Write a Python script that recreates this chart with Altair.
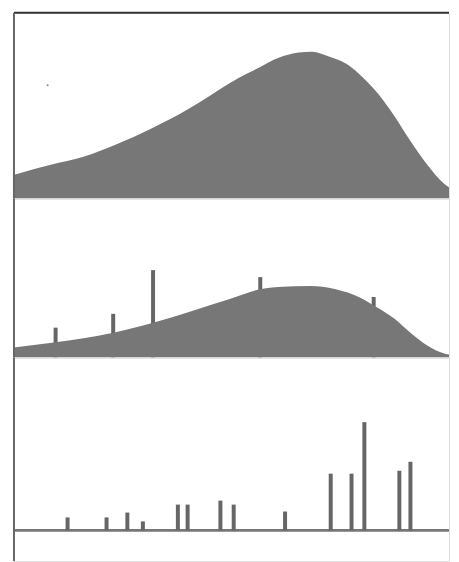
import altair as alt
import pandas as pd

# Panel 1: smooth skewed curve
p1_x = [0, 0.9, 8.3, 15.7, 23.3, 30.7, 37.4, 41.9, 46.4, 50.9, 55.4, 59.9, 64.3, 67.3, 71.1, 74.9, 77.8, 82.1, 85.9, 89.5, 93.3, 97.1, 100]
p1_y = [12.8, 13.4, 18.2, 22.5, 29.4, 37.4, 45.5, 51.9, 58.8, 65.2, 70.6, 75.9, 78.6, 79.1, 76.5, 72.7, 67.4, 56.7, 44.4, 31.0, 18.2, 8.0, 3.7]
dot_x = [7.6]
dot_y = [61]

# Panel 2: flatter curve with spikes
p2_x = [0, 9.0, 22.4, 31.4, 48.7, 55.8, 59.6, 67.0, 72.4, 78.3, 82.1, 85.9, 89.5, 93.3, 97.1, 100]
p2_y = [6.3, 9.4, 15.6, 21.9, 36.9, 43.1, 44.4, 45.0, 43.1, 37.5, 31.3, 24.4, 15.6, 7.5, 2.5, 1.3]
s2_x = [9.4, 22.4, 31.4, 55.6, 81.2]
s2_y = [18.8, 27.5, 55.0, 50.6, 38.1]

# Panel 3: spikes on baseline
s3_x = [12.1, 20.9, 25.6, 29.1, 37.0, 39.2, 46.6, 49.6, 61.2, 71.5, 76.2, 79.1, 87.0, 89.5]
s3_y = [7.5, 7.5, 10.3, 5.2, 14.9, 14.9, 17.2, 14.9, 10.9, 32.8, 32.8, 62.6, 34.5, 39.7]

W = 438
XMAX = 100 * W / 446
AREA = "#777777"
SPIKE = "#666666"
AXIS = "#666666"

d1 = pd.DataFrame({"x": p1_x, "y": p1_y})
dd = pd.DataFrame({"x": dot_x, "y": dot_y})
d2 = pd.DataFrame({"x": p2_x, "y": p2_y})
sp2 = pd.DataFrame({"x": s2_x, "y": s2_y})
sp3 = pd.DataFrame({"x": s3_x, "y": s3_y})
one = pd.DataFrame({"k": [0]})


def xs():
    return alt.Scale(domain=[0, XMAX], nice=False, zero=False, padding=0)


def left_line(ys, lo, hi):
    return alt.Chart(one).mark_rule(color=AXIS, strokeWidth=2).encode(
        x=alt.X(datum=0, scale=xs(), axis=None),
        y=alt.Y(datum=lo, scale=ys, axis=None),
        y2=alt.Y2(datum=hi),
    )


# Panel 1
H1 = 187
ys1 = alt.Scale(domain=[0, 100], nice=False, zero=False, padding=0)
top_area = alt.Chart(d1).mark_area(color=AREA, interpolate="monotone", clip=True).encode(
    x=alt.X("x:Q", scale=xs(), axis=None),
    y=alt.Y("y:Q", scale=ys1, axis=None),
)
top_dot = alt.Chart(dd).mark_circle(size=4, color="#888888", opacity=1).encode(
    x=alt.X("x:Q", scale=xs(), axis=None), y=alt.Y("y:Q", scale=ys1, axis=None)
)
top_line = alt.Chart(one).mark_rule(color="#333333", strokeWidth=2).encode(
    x=alt.X(datum=0, scale=xs(), axis=None),
    x2=alt.X2(datum=XMAX),
    y=alt.Y(datum=100, scale=ys1, axis=None),
)
panel1 = (top_area + top_dot + top_line + left_line(ys1, 0, 100)).properties(width=W, height=H1)

# Panel 2
H2 = 160
ys2 = alt.Scale(domain=[0, 100], nice=False, zero=False, padding=0)
mid_area = alt.Chart(d2).mark_area(color=AREA, interpolate="monotone", clip=True).encode(
    x=alt.X("x:Q", scale=xs(), axis=None),
    y=alt.Y("y:Q", scale=ys2, axis=None),
)
mid_spk = alt.Chart(sp2).mark_bar(color=SPIKE, width=4).encode(
    x=alt.X("x:Q", scale=xs(), axis=None), y=alt.Y("y:Q", scale=ys2, axis=None)
)
panel2 = (mid_spk + mid_area + left_line(ys2, 0, 100)).properties(width=W, height=H2)

# Panel 3
H3 = 205
ys3 = alt.Scale(domain=[-17.8, 100], nice=False, zero=False, padding=0)
base = alt.Chart(one).mark_rule(color="#777777", strokeWidth=3).encode(
    x=alt.X(datum=0, scale=xs(), axis=None),
    x2=alt.X2(datum=XMAX),
    y=alt.Y(datum=0, scale=ys3, axis=None),
)
bot_spk = alt.Chart(sp3).mark_bar(color=SPIKE, width=4).encode(
    x=alt.X("x:Q", scale=xs(), axis=None),
    y=alt.Y("y:Q", scale=ys3, axis=None),
    y2=alt.Y2(datum=0),
)
panel3 = (base + bot_spk + left_line(ys3, -17.8, 100)).properties(width=W, height=H3)

chart = alt.vconcat(panel1, panel2, panel3, spacing=0, bounds="flush").properties(
    padding={"left": 4, "top": 1, "right": 0, "bottom": 0}
).configure_view(stroke=None).configure(background="#ffffff")

chart.save("out.html", embed_options={"renderer": "svg", "actions": False})
